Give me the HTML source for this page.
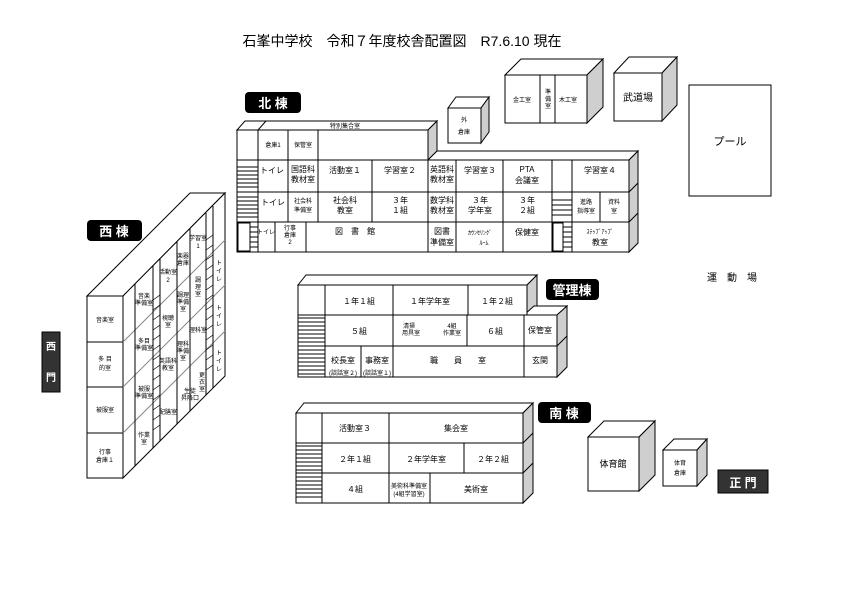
<!DOCTYPE html>
<html><head><meta charset="utf-8"><style>
html,body{margin:0;padding:0;background:#fff;}
svg{display:block;font-family:"Liberation Sans","Noto Sans CJK JP",sans-serif;}
.s{stroke:#000;stroke-width:1;fill:#fff}
.g{stroke:#000;stroke-width:1;fill:#cfcfcf}
.n{stroke:#000;stroke-width:1;fill:none}
.t{font-size:8px;fill:#000;text-anchor:middle}
.ts{font-size:6px;fill:#000;text-anchor:middle}
.lb{font-size:13px;font-weight:bold;fill:#fff;text-anchor:middle}
</style></head><body>
<svg width="866" height="610" viewBox="0 0 866 610">
<rect width="866" height="610" fill="#fff"/>
<text x="402" y="46" style="font-size:14px" text-anchor="middle">石峯中学校　令和７年度校舎配置図　R7.6.10 現在</text>

<rect x="245" y="92" width="56" height="21" rx="4" fill="#000"/>
<text x="273" y="108" class="lb">北 棟</text>

<polygon class="s" points="237,130 245,121 437,121 428,130"/>
<polygon class="g" points="428,130 437,121 437,151 428,160"/>
<polygon class="s" points="428,160 437,151 638,151 629,160"/>
<polygon class="g" points="629,160 638,151 638,243 629,252"/>
<line class="n" x1="629" y1="192" x2="638" y2="183"/>
<line class="n" x1="629" y1="222" x2="638" y2="213"/>
<line class="n" x1="258" y1="130" x2="266" y2="121"/>
<rect class="s" x="237" y="130" width="191" height="30"/>
<rect class="s" x="237" y="160" width="392" height="92"/>
<line class="n" x1="237" y1="192" x2="629" y2="192"/>
<line class="n" x1="237" y1="222" x2="629" y2="222"/>
<line class="n" x1="258" y1="130" x2="258" y2="252"/>
<line class="n" x1="288" y1="130" x2="288" y2="222"/>
<line class="n" x1="318" y1="130" x2="318" y2="222"/>
<line class="n" x1="372" y1="160" x2="372" y2="222"/>
<line class="n" x1="428" y1="160" x2="428" y2="252"/>
<line class="n" x1="456" y1="160" x2="456" y2="252"/>
<line class="n" x1="503" y1="160" x2="503" y2="252"/>
<line class="n" x1="552" y1="160" x2="552" y2="252"/>
<line class="n" x1="572" y1="160" x2="572" y2="252"/>
<line class="n" x1="600" y1="192" x2="600" y2="222"/>
<rect class="s" x="275" y="222" width="31" height="30"/>
<rect class="s" x="238" y="223" width="12" height="28"/>
<rect class="s" x="553" y="223" width="10" height="28"/>
<g stroke="#000" stroke-width="1">
<line x1="237" y1="167" x2="258" y2="167"/><line x1="237" y1="171" x2="258" y2="171"/><line x1="237" y1="175" x2="258" y2="175"/><line x1="237" y1="179" x2="258" y2="179"/><line x1="237" y1="183" x2="258" y2="183"/><line x1="237" y1="187" x2="258" y2="187"/>
<line x1="237" y1="197" x2="258" y2="197"/><line x1="237" y1="201" x2="258" y2="201"/><line x1="237" y1="205" x2="258" y2="205"/><line x1="237" y1="209" x2="258" y2="209"/><line x1="237" y1="213" x2="258" y2="213"/><line x1="237" y1="217" x2="258" y2="217"/>
<line x1="250" y1="227" x2="258" y2="227"/><line x1="250" y1="232" x2="258" y2="232"/><line x1="250" y1="237" x2="258" y2="237"/><line x1="250" y1="242" x2="258" y2="242"/><line x1="250" y1="247" x2="258" y2="247"/>
<line x1="552" y1="200" x2="572" y2="200"/><line x1="552" y1="205" x2="572" y2="205"/><line x1="552" y1="210" x2="572" y2="210"/><line x1="552" y1="215" x2="572" y2="215"/>
<line x1="563" y1="227" x2="572" y2="227"/><line x1="563" y1="232" x2="572" y2="232"/><line x1="563" y1="237" x2="572" y2="237"/><line x1="563" y1="242" x2="572" y2="242"/><line x1="563" y1="247" x2="572" y2="247"/>
</g>
<text class="ts" x="345" y="128">特別集合室</text>
<text class="ts" x="273" y="147">倉庫1</text>
<text class="ts" x="303" y="147">保管室</text>
<text class="t" x="272" y="173">トイレ</text>
<text class="t" x="303" y="172">国語科</text><text class="t" x="303" y="182">教材室</text>
<text class="t" x="345" y="173">活動室１</text>
<text class="t" x="400" y="173">学習室２</text>
<text class="t" x="442" y="172">英語科</text><text class="t" x="442" y="182">教材室</text>
<text class="t" x="480" y="173">学習室３</text>
<text class="t" x="527" y="172">PTA</text><text class="t" x="527" y="183">会議室</text>
<text class="t" x="600" y="173">学習室４</text>
<text class="t" x="273" y="205">トイレ</text>
<text class="ts" x="303" y="203">社会科</text><text class="ts" x="303" y="212">準備室</text>
<text class="t" x="345" y="203">社会科</text><text class="t" x="345" y="213">教室</text>
<text class="t" x="400" y="203">３年</text><text class="t" x="400" y="213">１組</text>
<text class="t" x="442" y="203">数学科</text><text class="t" x="442" y="213">教材室</text>
<text class="t" x="480" y="203">３年</text><text class="t" x="480" y="213">学年室</text>
<text class="t" x="527" y="203">３年</text><text class="t" x="527" y="213">２組</text>
<text class="ts" x="586" y="204">進路</text><text class="ts" x="586" y="213">指導室</text>
<text class="ts" x="614" y="204">資料</text><text class="ts" x="614" y="213">室</text>
<text class="ts" x="266" y="234">トイレ</text>
<text class="ts" x="290" y="230">行事</text><text class="ts" x="290" y="237">倉庫</text><text class="ts" x="290" y="244">2</text>
<text class="t" x="355" y="234">図　書　館</text>
<text class="t" x="442" y="234">図書</text><text class="t" x="442" y="245">準備室</text>
<text class="ts" x="480" y="235">ｶｳﾝｾﾘﾝｸﾞ</text><text class="ts" x="484" y="245">ﾙｰﾑ</text>
<text class="t" x="527" y="235">保健室</text>
<text class="ts" x="600" y="234">ｽﾃｯﾌﾟｱｯﾌﾟ</text><text class="t" x="600" y="245">教室</text>

<polygon class="s" points="448,108 456,97 489,97 481,108"/>
<polygon class="g" points="481,108 489,97 489,132 481,143"/>
<rect class="s" x="448" y="108" width="33" height="35"/>
<text class="ts" x="464" y="122">外</text><text class="ts" x="464" y="134">倉庫</text>

<polygon class="s" points="505,75 521,59 603,59 587,75"/>
<polygon class="g" points="587,75 603,59 603,107 587,123"/>
<rect class="s" x="505" y="75" width="82" height="48"/>
<line class="n" x1="540" y1="75" x2="540" y2="123"/>
<line class="n" x1="555" y1="75" x2="555" y2="123"/>
<text class="ts" x="522" y="102">金工室</text>
<text class="ts" x="548" y="94">準</text><text class="ts" x="548" y="101">備</text><text class="ts" x="548" y="108">室</text>
<text class="ts" x="568" y="102">木工室</text>

<polygon class="s" points="614,73 629,57 677,57 662,73"/>
<polygon class="g" points="662,73 677,57 677,105 662,121"/>
<rect class="s" x="614" y="73" width="48" height="48"/>
<text class="t" x="638" y="101" style="font-size:10px">武道場</text>

<rect class="s" x="689" y="85" width="82" height="111"/>
<text x="730" y="145" style="font-size:11px" text-anchor="middle">プール</text>

<text x="732" y="281" style="font-size:10px" text-anchor="middle">運　動　場</text>

<rect x="87" y="220" width="55" height="21" rx="4" fill="#000"/>
<text x="114" y="236" class="lb">西 棟</text>
<rect x="42" y="332" width="18" height="60" fill="#333" stroke="#000"/>
<text x="51" y="350" class="lb" style="font-size:10px">西</text>
<text x="51" y="381" class="lb" style="font-size:10px">門</text>

<polygon class="s" points="87,296 190,193 225,193 123,296"/>
<polygon class="s" points="123,296 225,193 225,376 123,478"/>
<rect class="s" x="87" y="296" width="36" height="182"/>
<line class="n" x1="87" y1="342" x2="123" y2="342"/>
<line class="n" x1="87" y1="387" x2="123" y2="387"/>
<line class="n" x1="87" y1="433" x2="123" y2="433"/>
<g stroke="#888" stroke-width="1">
<line x1="123" y1="342" x2="225" y2="240"/>
<line x1="123" y1="387" x2="225" y2="285"/>
<line x1="123" y1="433" x2="225" y2="331"/>
</g>
<g stroke="#000" stroke-width="1">
<line x1="135" y1="284" x2="135" y2="466"/>
<line x1="153" y1="266" x2="153" y2="448"/>
<line x1="160" y1="259" x2="160" y2="441"/>
<line x1="177" y1="242" x2="177" y2="424"/>
<line x1="190" y1="229" x2="190" y2="411"/>
<line x1="206" y1="213" x2="206" y2="395"/>
<line x1="213" y1="206" x2="213" y2="388"/>
</g>
<g stroke="#000" stroke-width="0.7">
<line x1="153" y1="300" x2="160" y2="295"/><line x1="153" y1="310" x2="160" y2="305"/><line x1="153" y1="320" x2="160" y2="315"/><line x1="153" y1="330" x2="160" y2="325"/><line x1="153" y1="340" x2="160" y2="335"/><line x1="153" y1="350" x2="160" y2="345"/><line x1="153" y1="360" x2="160" y2="355"/><line x1="153" y1="370" x2="160" y2="365"/><line x1="153" y1="380" x2="160" y2="375"/><line x1="153" y1="390" x2="160" y2="385"/><line x1="153" y1="400" x2="160" y2="395"/><line x1="153" y1="410" x2="160" y2="405"/><line x1="153" y1="420" x2="160" y2="415"/><line x1="153" y1="430" x2="160" y2="425"/>
<line x1="206" y1="240" x2="213" y2="235"/><line x1="206" y1="250" x2="213" y2="245"/><line x1="206" y1="260" x2="213" y2="255"/><line x1="206" y1="270" x2="213" y2="265"/><line x1="206" y1="280" x2="213" y2="275"/><line x1="206" y1="290" x2="213" y2="285"/><line x1="206" y1="300" x2="213" y2="295"/><line x1="206" y1="310" x2="213" y2="305"/><line x1="206" y1="320" x2="213" y2="315"/><line x1="206" y1="330" x2="213" y2="325"/><line x1="206" y1="340" x2="213" y2="335"/><line x1="206" y1="350" x2="213" y2="345"/><line x1="206" y1="360" x2="213" y2="355"/><line x1="206" y1="370" x2="213" y2="365"/>
</g>
<text class="ts" x="105" y="322">音楽室</text>
<text class="ts" x="105" y="361">多 目</text><text class="ts" x="105" y="370">的室</text>
<text class="ts" x="105" y="412">被服室</text>
<text class="ts" x="105" y="454">行事</text><text class="ts" x="105" y="462">倉庫１</text>
<text class="ts" x="144" y="298">音楽</text><text class="ts" x="144" y="305">準備室</text>
<text class="ts" x="144" y="343">多目</text><text class="ts" x="144" y="350">準備室</text>
<text class="ts" x="144" y="391">被服</text><text class="ts" x="144" y="398">準備室</text>
<text class="ts" x="144" y="437">作業</text><text class="ts" x="144" y="444">室</text>
<text class="ts" x="168" y="274">活動室</text><text class="ts" x="168" y="282">2</text>
<text class="ts" x="168" y="320">視聴</text><text class="ts" x="168" y="327">室</text>
<text class="ts" x="168" y="363">英語科</text><text class="ts" x="168" y="370">教室</text>
<text class="ts" x="168" y="414">配膳室</text>
<text class="ts" x="183" y="258">楽器</text><text class="ts" x="183" y="265">倉庫</text>
<text class="ts" x="183" y="297">調理</text><text class="ts" x="183" y="304">準備</text><text class="ts" x="183" y="311">室</text>
<text class="ts" x="183" y="346">理科</text><text class="ts" x="183" y="353">準備</text><text class="ts" x="183" y="360">室</text>
<text class="ts" x="190" y="393">生徒</text><text class="ts" x="190" y="400">昇降口</text>
<text class="ts" x="198" y="240">学習室</text><text class="ts" x="198" y="248">1</text>
<text class="ts" x="198" y="282">調</text><text class="ts" x="198" y="289">理</text><text class="ts" x="198" y="296">室</text>
<text class="ts" x="198" y="332">理科室</text>
<text class="ts" x="202" y="377">更</text><text class="ts" x="202" y="384">衣</text><text class="ts" x="202" y="391">室</text>
<text class="ts" x="219" y="265">ト</text><text class="ts" x="219" y="273">イ</text><text class="ts" x="219" y="281">レ</text>
<text class="ts" x="219" y="310">ト</text><text class="ts" x="219" y="318">イ</text><text class="ts" x="219" y="326">レ</text>
<text class="ts" x="219" y="355">ト</text><text class="ts" x="219" y="363">イ</text><text class="ts" x="219" y="371">レ</text>

<rect x="546" y="279" width="53" height="21" rx="4" fill="#000"/>
<text x="572" y="295" class="lb">管理棟</text>
<polygon class="s" points="298,285 306,275 537,275 527,285"/>
<polygon class="g" points="527,285 537,275 537,306 527,315"/>
<polygon class="s" points="524,315 534,306 567,306 557,315"/>
<polygon class="g" points="557,315 567,306 567,367 557,377"/>
<line class="n" x1="557" y1="346" x2="567" y2="336"/>
<rect class="s" x="298" y="285" width="229" height="30"/>
<rect class="s" x="298" y="315" width="259" height="62"/>
<line class="n" x1="298" y1="346" x2="557" y2="346"/>
<line class="n" x1="325" y1="285" x2="325" y2="377"/>
<line class="n" x1="393" y1="285" x2="393" y2="377"/>
<line class="n" x1="468" y1="285" x2="468" y2="315"/>
<line class="n" x1="467" y1="315" x2="467" y2="346"/>
<line class="n" x1="524" y1="315" x2="524" y2="377"/>
<line class="n" x1="361" y1="346" x2="361" y2="377"/>
<g stroke="#000" stroke-width="1">
<line x1="298" y1="318" x2="325" y2="318"/><line x1="298" y1="322" x2="325" y2="322"/><line x1="298" y1="326" x2="325" y2="326"/><line x1="298" y1="330" x2="325" y2="330"/><line x1="298" y1="334" x2="325" y2="334"/><line x1="298" y1="338" x2="325" y2="338"/><line x1="298" y1="342" x2="325" y2="342"/>
<line x1="298" y1="350" x2="325" y2="350"/><line x1="298" y1="354" x2="325" y2="354"/><line x1="298" y1="358" x2="325" y2="358"/><line x1="298" y1="362" x2="325" y2="362"/><line x1="298" y1="366" x2="325" y2="366"/><line x1="298" y1="370" x2="325" y2="370"/><line x1="298" y1="374" x2="325" y2="374"/>
</g>
<text class="t" x="359" y="304">１年１組</text>
<text class="t" x="430" y="304">１年学年室</text>
<text class="t" x="497" y="304">１年２組</text>
<text class="t" x="359" y="334">５組</text>
<text class="ts" x="409" y="328">清掃</text><text class="ts" x="411" y="335">用具室</text>
<text class="ts" x="452" y="328">4組</text><text class="ts" x="452" y="335">作業室</text>
<text class="t" x="495" y="334">６組</text>
<text class="t" x="540" y="333">保管室</text>
<text class="t" x="343" y="363">校長室</text>
<text class="t" x="377" y="363">事務室</text>
<text class="ts" x="343" y="375">(談話室２)</text>
<text class="ts" x="377" y="375">(談話室１)</text>
<text class="t" x="458" y="363">職　　員　　室</text>
<text class="t" x="540" y="363">玄関</text>

<rect x="538" y="402" width="53" height="21" rx="4" fill="#000"/>
<text x="564" y="418" class="lb">南 棟</text>
<polygon class="s" points="296,413 304,403 533,403 523,413"/>
<polygon class="g" points="523,413 533,403 533,493 523,503"/>
<line class="n" x1="523" y1="443" x2="533" y2="433"/>
<line class="n" x1="523" y1="473" x2="533" y2="463"/>
<rect class="s" x="296" y="413" width="227" height="90"/>
<line class="n" x1="296" y1="443" x2="523" y2="443"/>
<line class="n" x1="296" y1="473" x2="523" y2="473"/>
<line class="n" x1="322" y1="413" x2="322" y2="503"/>
<line class="n" x1="389" y1="413" x2="389" y2="503"/>
<line class="n" x1="464" y1="443" x2="464" y2="473"/>
<line class="n" x1="430" y1="473" x2="430" y2="503"/>
<g stroke="#000" stroke-width="1">
<line x1="296" y1="446" x2="322" y2="446"/><line x1="296" y1="450" x2="322" y2="450"/><line x1="296" y1="454" x2="322" y2="454"/><line x1="296" y1="458" x2="322" y2="458"/><line x1="296" y1="462" x2="322" y2="462"/><line x1="296" y1="466" x2="322" y2="466"/><line x1="296" y1="470" x2="322" y2="470"/>
<line x1="296" y1="477" x2="322" y2="477"/><line x1="296" y1="481" x2="322" y2="481"/><line x1="296" y1="485" x2="322" y2="485"/><line x1="296" y1="489" x2="322" y2="489"/><line x1="296" y1="493" x2="322" y2="493"/><line x1="296" y1="497" x2="322" y2="497"/>
</g>
<text class="t" x="355" y="431">活動室３</text>
<text class="t" x="456" y="431">集会室</text>
<text class="t" x="355" y="462">２年１組</text>
<text class="t" x="426" y="462">２年学年室</text>
<text class="t" x="493" y="462">２年２組</text>
<text class="t" x="355" y="492">４組</text>
<text class="ts" x="409" y="488">美術科準備室</text><text class="ts" x="409" y="496">(4組学習室)</text>
<text class="t" x="476" y="492">美術室</text>

<polygon class="s" points="588,437 604,421 655,421 639,437"/>
<polygon class="g" points="639,437 655,421 655,475 639,491"/>
<rect class="s" x="588" y="437" width="51" height="54"/>
<text class="t" x="613" y="467" style="font-size:9px">体育館</text>
<polygon class="s" points="663,450 674,439 707,439 697,450"/>
<polygon class="g" points="697,450 707,439 707,475 697,486"/>
<rect class="s" x="663" y="450" width="34" height="36"/>
<text class="ts" x="680" y="465">体育</text><text class="ts" x="680" y="475">倉庫</text>
<rect x="718" y="470" width="50" height="23" fill="#333" stroke="#000"/>
<text x="743" y="487" class="lb" style="font-size:12px">正 門</text>
</svg>
</body></html>
